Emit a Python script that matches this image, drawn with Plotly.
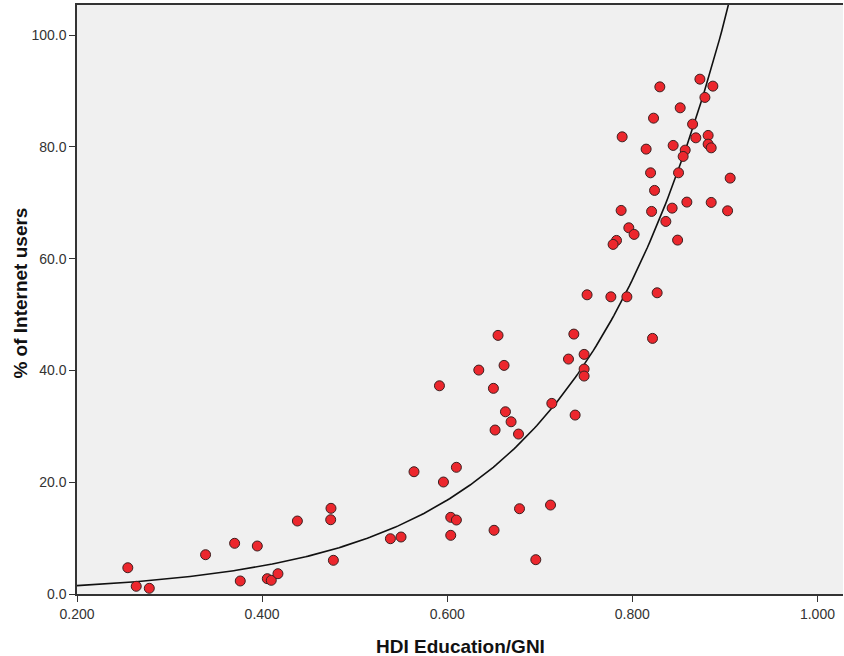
import numpy as np
import plotly.graph_objects as go

# HDI Education/GNI (x) vs % of Internet users (y)
hdi = [0.2549, 0.2640, 0.2781, 0.3389, 0.3703, 0.3948, 0.3764, 0.4056, 0.4099, 0.4171,
       0.4381, 0.4744, 0.4741, 0.4770,
       0.6549, 0.7368, 0.7479, 0.7310, 0.7479, 0.7479, 0.6341, 0.6614, 0.5916, 0.6499,
       0.7130, 0.7382, 0.6629, 0.6690, 0.6517, 0.6770, 0.5641, 0.6099, 0.5959, 0.6781,
       0.7116, 0.6038, 0.6099, 0.5386, 0.5501, 0.6038, 0.6506, 0.6957,
       0.7511, 0.7768, 0.7941, 0.8268, 0.8218,
       0.8297, 0.8730, 0.8870, 0.8784, 0.8517, 0.8229, 0.8651, 0.7890, 0.8686, 0.8819,
       0.8819, 0.8852, 0.8149, 0.8441, 0.8571, 0.8549, 0.8197, 0.8499, 0.9057, 0.8240,
       0.7879, 0.8208, 0.8430, 0.8589, 0.8852, 0.9029, 0.8362, 0.7962, 0.8019, 0.7829,
       0.7792, 0.8489]
internet = [4.70, 1.38, 1.02, 7.03, 9.07, 8.59, 2.33, 2.74, 2.45, 3.63,
            13.06, 15.33, 13.29, 6.03,
            46.28, 46.51, 42.88, 42.04, 40.25, 39.00, 40.07, 40.91, 37.26, 36.80,
            34.11, 32.02, 32.61, 30.82, 29.34, 28.62, 21.88, 22.67, 20.04, 15.26,
            15.92, 13.72, 13.24, 9.89, 10.20, 10.50, 11.40, 6.14,
            53.54, 53.18, 53.18, 53.90, 45.74,
            90.75, 92.13, 90.88, 88.86, 87.00, 85.15, 84.08, 81.81, 81.63, 82.06,
            80.50, 79.84, 79.61, 80.27, 79.43, 78.30, 75.37, 75.37, 74.42, 72.22,
            68.64, 68.46, 69.05, 70.13, 70.07, 68.57, 66.67, 65.53, 64.35, 63.27,
            62.56, 63.33]

# Exponential fit line y = a * exp(b * x), parameters
FIT_A = 0.448
FIT_B = 6.04

x_ticks = [0.2, 0.4, 0.6, 0.8, 1.0]
y_ticks = [0, 20, 40, 60, 80, 100]
x_title = "HDI Education/GNI"
y_title = "% of Internet users"

xf = np.linspace(0.2, 1.03, 300)
yf = FIT_A * np.exp(FIT_B * xf)

fig = go.Figure()
fig.add_trace(go.Scatter(x=xf, y=yf, mode="lines",
                         line=dict(color="#111111", width=1.6),
                         hoverinfo="skip", showlegend=False))
fig.add_trace(go.Scatter(x=hdi, y=internet, mode="markers",
                         marker=dict(size=10, color="#EC272D",
                                     line=dict(color="#3b2020", width=1)),
                         showlegend=False))

fig.update_layout(
    width=844, height=656,
    margin=dict(l=77, r=1, t=5, b=62),
    paper_bgcolor="white", plot_bgcolor="#F0F0F0",
    font=dict(family="Liberation Sans, Arial, sans-serif", color="#333333", size=14),
    annotations=[
        dict(text="<b>" + x_title + "</b>", xref="paper", yref="paper",
             x=0.5, y=0, yshift=-52, xanchor="center", yanchor="middle",
             showarrow=False, font=dict(size=19, color="#111111")),
        dict(text="<b>" + y_title + "</b>", xref="paper", yref="paper",
             x=0, xshift=-56, y=0.51, xanchor="center", yanchor="middle",
             textangle=-90, showarrow=False, font=dict(size=19, color="#111111")),
    ],
)
fig.update_xaxes(range=[0.2, 1.0276], tickvals=x_ticks, tickformat=".3f",
                 ticks="outside", ticklen=6, tickcolor="#333333", automargin=False,
                 showline=True, linecolor="#333333", linewidth=1.5, mirror=True,
                 showgrid=False, zeroline=False)
fig.update_yaxes(range=[0, 105.4], tickvals=y_ticks, tickformat=".1f",
                 ticks="outside", ticklen=6, tickcolor="#333333", automargin=False,
                 showline=True, linecolor="#333333", linewidth=1.5, mirror=False,
                 showgrid=False, zeroline=False)

fig.write_html("out.html", config={"displayModeBar": False},
               post_script="document.body.style.margin='0';document.body.style.overflow='hidden';")
